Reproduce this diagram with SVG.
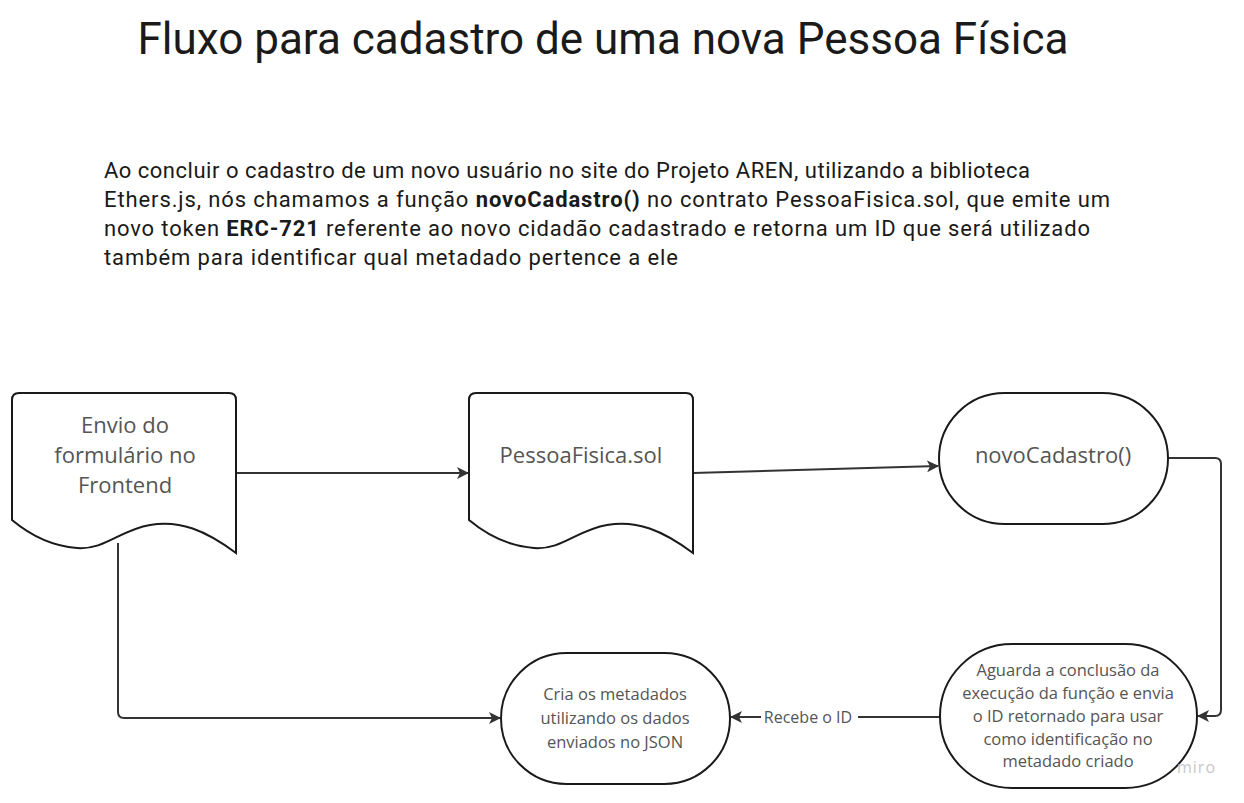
<svg xmlns="http://www.w3.org/2000/svg" width="1244" height="803" viewBox="0 0 1244 803">
<style>
.title{font-family:Roboto,"Liberation Sans",sans-serif;font-size:44px;fill:#1a1a1a}
.para{font-family:Roboto,"Liberation Sans",sans-serif;font-size:22px;fill:#1a1a1a}
.b{font-weight:bold}
.shape{fill:#ffffff;stroke:#1a1a1a;stroke-width:2}
.lbl{font-family:"Open Sans","Noto Sans",sans-serif;fill:#555555;text-anchor:middle}
.big{font-size:22px}
.small{font-size:16.5px}
.conn{fill:none;stroke:#333333;stroke-width:2}
.clbl{font-family:"Open Sans","Noto Sans",sans-serif;font-size:16px;fill:#555555;text-anchor:middle}
.miro{font-family:"Open Sans","Noto Sans",sans-serif;font-size:16px;fill:#c8c8c8;letter-spacing:1px}
</style>
<defs>
<marker id="arr" viewBox="0 0 12 12" refX="11" refY="6" markerWidth="12" markerHeight="12" markerUnits="userSpaceOnUse" orient="auto">
<path d="M0,0 L12,6 L0,12 L3,6 Z" fill="#333333"/>
</marker>
</defs>
<rect width="1244" height="803" fill="#ffffff"/>
<text class="title" x="603" y="54" text-anchor="middle">Fluxo para cadastro de uma nova Pessoa Física</text>
<text class="para" x="104" y="178" textLength="926" lengthAdjust="spacing">Ao concluir o cadastro de um novo usuário no site do Projeto AREN, utilizando a biblioteca</text>
<text class="para" x="104" y="207" textLength="1006" lengthAdjust="spacing">Ethers.js, nós chamamos a função <tspan class="b">novoCadastro()</tspan> no contrato PessoaFisica.sol, que emite um</text>
<text class="para" x="104" y="236" textLength="986" lengthAdjust="spacing">novo token <tspan class="b">ERC-721</tspan> referente ao novo cidadão cadastrado e retorna um ID que será utilizado</text>
<text class="para" x="104" y="265" textLength="574" lengthAdjust="spacing">também para identificar qual metadado pertence a ele</text>

<g id="connectors">
<path class="conn" d="M236,473 L468,473" marker-end="url(#arr)"/>
<path class="conn" d="M693,473 L938,466" marker-end="url(#arr)"/>
<path class="conn" d="M1168,458 L1215,458 Q1221,458 1221,464 L1221,710 Q1221,716 1215,716 L1198,716" marker-end="url(#arr)"/>
<path class="conn" d="M940,717 L858,717"/>
<path class="conn" d="M761,717 L731,717" marker-end="url(#arr)"/>
<text class="clbl" x="808" y="723">Recebe o ID</text>
<path class="conn" d="M118,543 L118,712 Q118,718 124,718 L500,718" marker-end="url(#arr)"/>
</g>

<g id="node-envio">
<path class="shape" d="M19,393 L229,393 Q236,393 236,400 L236,553 C205,530 180,520 150,525 C120,530 105,550 77,548 C50,546 30,535 12,520 L12,400 Q12,393 19,393 Z"/>
<text class="lbl big" x="125" y="433">Envio do</text>
<text class="lbl big" x="125" y="463">formulário no</text>
<text class="lbl big" x="125" y="493">Frontend</text>
</g>

<g id="node-pessoa">
<path class="shape" d="M476,393 L686,393 Q693,393 693,400 L693,553 C662,530 637,520 607,525 C577,530 562,550 534,548 C507,546 487,535 469,520 L469,400 Q469,393 476,393 Z"/>
<text class="lbl big" x="581" y="463">PessoaFisica.sol</text>
</g>

<g id="node-novo">
<rect class="shape" x="939" y="393" width="229" height="131" rx="65.5" ry="65.5"/>
<text class="lbl big" x="1053" y="463">novoCadastro()</text>
</g>

<g id="node-cria">
<rect class="shape" x="501" y="653" width="229" height="131" rx="65.5" ry="65.5"/>
<text class="lbl small" x="615" y="700">Cria os metadados</text>
<text class="lbl small" x="615" y="724">utilizando os dados</text>
<text class="lbl small" x="615" y="748">enviados no JSON</text>
</g>

<g id="node-aguarda">
<rect class="shape" x="940" y="644" width="257" height="144" rx="72" ry="72"/>
<text class="lbl small" x="1068" y="676">Aguarda a conclusão da</text>
<text class="lbl small" x="1068" y="699">execução da função e envia</text>
<text class="lbl small" x="1068" y="722">o ID retornado para usar</text>
<text class="lbl small" x="1068" y="745">como identificação no</text>
<text class="lbl small" x="1068" y="767">metadado criado</text>
</g>
<text class="miro" x="1177" y="773">miro</text>
</svg>
